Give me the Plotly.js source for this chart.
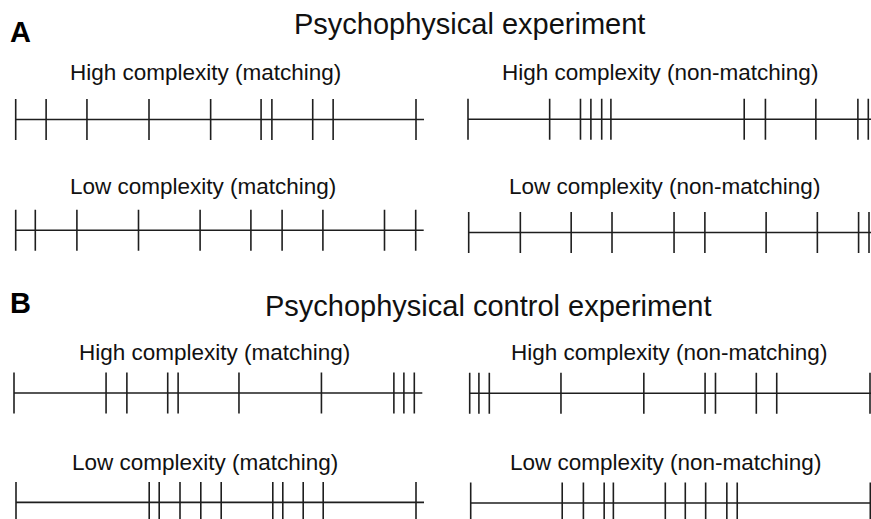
<!DOCTYPE html>
<html><head><meta charset="utf-8">
<script src="https://cdn.plot.ly/plotly-3.0.1.min.js"></script>
<style>html,body{margin:0;padding:0;background:#fff}</style>
</head><body><div id="chart" style="width:871px;height:519px"></div>
<script>
// Spike (tick) times within a 1000-unit trial
const spikesAHighMatch = [0, 76, 178, 333, 487, 613, 640, 742, 793, 1000];
const spikesAHighNon   = [0, 204, 281, 307, 334, 357, 690, 743, 869, 974, 1000];
const spikesALowMatch  = [0, 49, 153, 307, 461, 588, 666, 768, 922, 1000];
const spikesALowNon    = [0, 129, 256, 358, 513, 590, 743, 871, 974, 1000];
const spikesBHighMatch = [0, 230, 282, 384, 410, 562, 768, 949, 974, 1000];
const spikesBHighNon   = [0, 23, 49, 228, 435, 588, 614, 716, 767, 1000];
const spikesBLowMatch  = [0, 333, 358, 410, 462, 513, 642, 667, 718, 768, 1000];
const spikesBLowNon    = [0, 229, 282, 334, 357, 487, 537, 588, 641, 667, 1000];
const trialEnd = 1000;
const lineEnd = 1020;

const panelTitles = [
  "High complexity (matching)", "High complexity (non-matching)",
  "Low complexity (matching)", "Low complexity (non-matching)",
  "High complexity (matching)", "High complexity (non-matching)",
  "Low complexity (matching)", "Low complexity (non-matching)"
];
const sectionTitles = ["Psychophysical experiment", "Psychophysical control experiment"];
const sectionLabels = ["A", "B"];

const spikeSets = [spikesAHighMatch, spikesAHighNon, spikesALowMatch, spikesALowNon,
                   spikesBHighMatch, spikesBHighNon, spikesBLowMatch, spikesBLowNon];

// layout geometry (pixels)
const W = 871, H = 519;
const geom = [
  {x0: 15.7, x1: 416.0, yc: 119.5, tx: 68,  ty: 73},
  {x0: 468.0, x1: 868.3, yc: 119.3, tx: 500, ty: 73},
  {x0: 15.7, x1: 415.7, yc: 230.3, tx: 68,  ty: 187},
  {x0: 468.7, x1: 869.0, yc: 232.5, tx: 507, ty: 187},
  {x0: 14.0, x1: 414.3, yc: 393.0, tx: 77,  ty: 352},
  {x0: 469.7, x1: 870.0, yc: 393.3, tx: 509, ty: 352},
  {x0: 16.0, x1: 416.0, yc: 502.4, tx: 70,  ty: 462},
  {x0: 470.7, x1: 870.3, yc: 503.0, tx: 508, ty: 462}
];
const halfTick = 20.5;

const traces = [];
const layout = {
  width: W, height: H,
  margin: {l: 0, r: 0, t: 0, b: 0},
  paper_bgcolor: '#fff', plot_bgcolor: 'rgba(0,0,0,0)',
  showlegend: false,
  annotations: []
};
const lineStyle = {color: '#1e1e1e', width: 1.6};
const fontFam = 'Liberation Sans, Arial, sans-serif';

spikeSets.forEach((sp, i) => {
  const g = geom[i];
  const n = i + 1;
  const xa = n === 1 ? 'x' : 'x' + n;
  const ya = n === 1 ? 'y' : 'y' + n;
  const scale = (g.x1 - g.x0) / trialEnd;
  const leftPx = Math.max(0, g.x0 - 4);
  const rightPx = Math.min(W, g.x0 + (lineEnd + 10) * scale);
  const topPx = g.yc - halfTick - 3;
  const botPx = Math.min(H, g.yc + halfTick + 3);
  layout['xaxis' + (n === 1 ? '' : n)] = {
    domain: [leftPx / W, rightPx / W],
    range: [(leftPx - g.x0) / scale, (rightPx - g.x0) / scale],
    visible: false, fixedrange: true, anchor: ya
  };
  layout['yaxis' + (n === 1 ? '' : n)] = {
    domain: [1 - botPx / H, 1 - topPx / H],
    range: [(g.yc - botPx) / halfTick, (g.yc - topPx) / halfTick],
    visible: false, fixedrange: true, anchor: xa
  };
  // baseline
  traces.push({x: [0, lineEnd], y: [0, 0], xaxis: xa, yaxis: ya, mode: 'lines',
               line: lineStyle, hoverinfo: 'skip'});
  // ticks
  const tx = [], ty = [];
  sp.forEach(t => { tx.push(t, t, null); ty.push(-1, 1, null); });
  traces.push({x: tx, y: ty, xaxis: xa, yaxis: ya, mode: 'lines',
               line: lineStyle, hoverinfo: 'skip'});
  layout.annotations.push({
    text: panelTitles[i], xref: 'paper', yref: 'paper',
    x: g.tx / W, y: 1 - g.ty / H, xanchor: 'left', yanchor: 'middle',
    showarrow: false, font: {family: fontFam, size: 22.5, color: '#111'}
  });
});

const secGeom = [
  {lx: 8, ly: 32, tx: 292, ty: 24},
  {lx: 8, ly: 303, tx: 263, ty: 306}
];
sectionTitles.forEach((s, i) => {
  const g = secGeom[i];
  layout.annotations.push({
    text: s, xref: 'paper', yref: 'paper', x: g.tx / W, y: 1 - g.ty / H,
    xanchor: 'left', yanchor: 'middle', showarrow: false,
    font: {family: fontFam, size: 29, color: '#111'}
  });
  layout.annotations.push({
    text: '<b>' + sectionLabels[i] + '</b>', xref: 'paper', yref: 'paper',
    x: g.lx / W, y: 1 - g.ly / H, xanchor: 'left', yanchor: 'middle', showarrow: false,
    font: {family: fontFam, size: 29, color: '#000'}
  });
});

Plotly.newPlot('chart', traces, layout, {staticPlot: true, displayModeBar: false});
</script>
</body></html>
